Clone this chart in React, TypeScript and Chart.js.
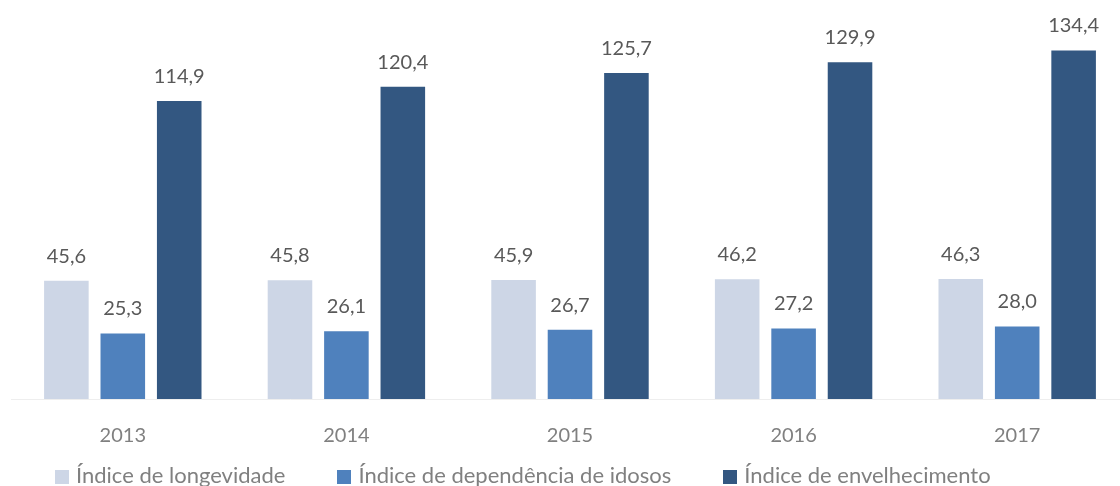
import React, { useEffect, useRef } from "react";
import { Chart, registerables } from "chart.js";

Chart.register(...registerables);

const years = ["2013", "2014", "2015", "2016", "2017"];
const longevidade = [45.6, 45.8, 45.9, 46.2, 46.3];
const dependencia = [25.3, 26.1, 26.7, 27.2, 28.0];
const envelhecimento = [114.9, 120.4, 125.7, 129.9, 134.4];
const seriesNames = [
  "Índice de longevidade",
  "Índice de dependência de idosos",
  "Índice de envelhecimento",
];
const seriesColors = ["#cdd6e6", "#4f81bd", "#335781"];

const FONT = "Lato, 'Open Sans', sans-serif";

const valueLabels = {
  id: "valueLabels",
  afterDatasetsDraw(chart: any) {
    const ctx = chart.ctx;
    ctx.save();
    ctx.font = `20px ${FONT}`;
    ctx.fillStyle = "#595959";
    ctx.textAlign = "center";
    ctx.textBaseline = "alphabetic";
    chart.data.datasets.forEach((ds: any, i: number) => {
      const meta = chart.getDatasetMeta(i);
      meta.data.forEach((el: any, j: number) => {
        const v = ds.data[j] as number;
        ctx.fillText(v.toFixed(1).replace(".", ","), el.x, el.y - 18);
      });
    });
    ctx.restore();
  },
};

export default function App() {
  const ref = useRef<HTMLCanvasElement>(null);
  useEffect(() => {
    if (!ref.current) return;
    const chart = new Chart(ref.current, {
      type: "bar",
      data: {
        labels: years,
        datasets: [longevidade, dependencia, envelhecimento].map((d, i) => ({
          label: seriesNames[i],
          data: d,
          backgroundColor: seriesColors[i],
          borderWidth: 0,
          barPercentage: 0.79,
          categoryPercentage: 0.757,
        })),
      },
      options: {
        responsive: false,
        animation: false,
        layout: { padding: { left: 11, right: 11, top: 10, bottom: 2 } },
        plugins: {
          legend: { display: false },
          tooltip: { enabled: false },
        },
        scales: {
          x: {
            grid: { display: true, color: "rgba(0,0,0,0)", drawTicks: false },
            border: { display: true, color: "#eeeeee", width: 1 },
            ticks: {
              color: "#808080",
              font: { family: FONT, size: 20 },
              padding: 25,
            },
          },
          y: {
            display: false,
            min: 0,
            max: 150,
          },
        },
      },
      plugins: [valueLabels],
    });
    return () => chart.destroy();
  }, []);

  return (
    <div
      style={{
        position: "fixed",
        top: 0,
        left: 0,
        width: 1120,
        height: 486,
        overflow: "hidden",
        background: "#ffffff",
      }}
    >
      <canvas ref={ref} width={1140} height={475} style={{ display: "block" }} />
      <div
        style={{
          position: "absolute",
          top: 462,
          left: 55,
          display: "flex",
          alignItems: "center",
          fontFamily: FONT,
          fontSize: 22,
          lineHeight: "26px",
          color: "#808080",
          whiteSpace: "nowrap",
        }}
      >
        {seriesNames.map((n, i) => (
          <div
            key={n}
            style={{
              display: "flex",
              alignItems: "center",
              marginRight: i < seriesNames.length - 1 ? 52 : 0,
            }}
          >
            <span
              style={{
                display: "inline-block",
                width: 14,
                height: 14,
                background: seriesColors[i],
                marginRight: 7,
                marginTop: 3,
              }}
            />
            <span>{n}</span>
          </div>
        ))}
      </div>
    </div>
  );
}
